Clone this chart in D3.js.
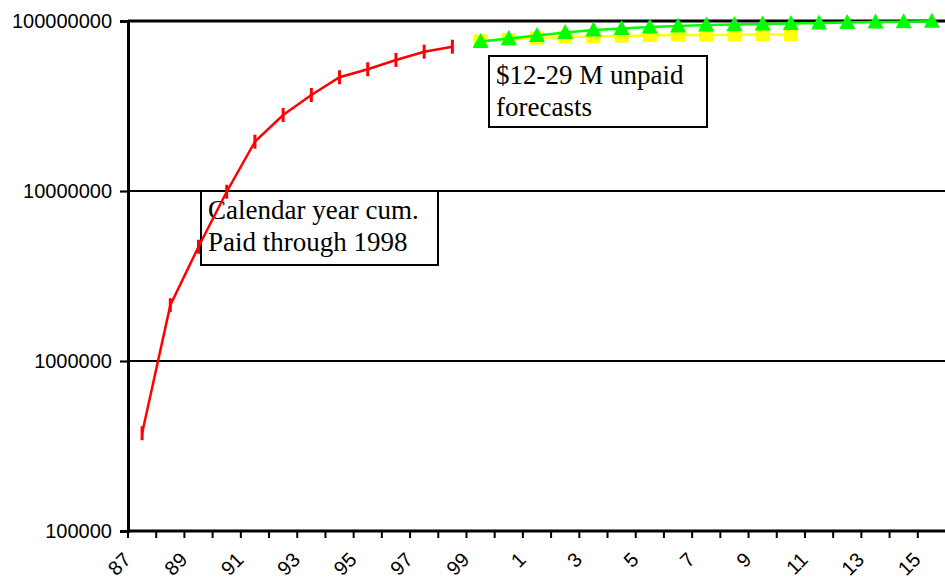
<!DOCTYPE html>
<html>
<head>
<meta charset="utf-8">
<script src="https://cdn.jsdelivr.net/npm/d3@7"></script>
<style>
  body { margin: 0; background: #fff; }
  svg { display: block; }
</style>
</head>
<body>
<div id="chart"></div>
<script>
// category axis: calendar years 1987..2015
const years = ["87", "88", "89", "90", "91", "92", "93", "94", "95", "96", "97", "98", "99",
    "0", "1", "2", "3", "4", "5", "6", "7", "8", "9", "10", "11", "12", "13", "14", "15"];
const shownLabels = ["87", "89", "91", "93", "95", "97", "99", "1", "3", "5", "7", "9", "11", "13", "15"];

// cumulative paid through 1998
const paidYears = ["87", "88", "89", "90", "91", "92", "93", "94", "95", "96", "97", "98"];
const paidValues = [376000, 2130000, 4700000, 9900000, 19500000, 28000000, 36700000,
    46700000, 52000000, 59000000, 66000000, 70600000];

// low forecast (yellow)
const lowYears = ["99", "0", "1", "2", "3", "4", "5", "6", "7", "8", "9", "10"];
const lowValues = [76300000, 77900000, 79400000, 80500000, 81100000, 81600000,
    82200000, 82700000, 82700000, 83000000, 83300000, 83300000];

// high forecast (green)
const highYears = ["99", "0", "1", "2", "3", "4", "5", "6", "7", "8", "9", "10",
    "11", "12", "13", "14", "15"];
const highValues = [75700000, 78900000, 82200000, 85600000, 88500000, 90300000,
    92200000, 93500000, 94700000, 95400000, 96000000, 96700000, 97300000,
    98000000, 98700000, 99000000, 99600000];

const yTicks = [100000, 1000000, 10000000, 100000000];

const width = 945, height = 583;
const plot = { left: 128, right: 946, top: 21, bottom: 531 };

const svg = d3.select("#chart")
    .append("svg")
    .attr("width", width)
    .attr("height", height);

const x = d3.scaleBand()
    .domain(years)
    .range([plot.left, plot.right]);

const y = d3.scaleLog()
    .domain([1e5, 1e8])
    .range([plot.bottom, plot.top]);

const cx = d => x(d) + x.bandwidth() / 2;

// horizontal gridlines
svg.append("g")
    .selectAll("line")
    .data(yTicks.slice(1))
    .enter()
    .append("line")
    .attr("x1", plot.left)
    .attr("x2", width)
    .attr("y1", d => y(d))
    .attr("y2", d => y(d))
    .attr("stroke", "#000")
    .attr("stroke-width", (d, i) => i === 2 ? 3 : 2.2);

// y axis
const yAxis = svg.append("g")
    .attr("transform", `translate(${plot.left},0)`)
    .call(d3.axisLeft(y).tickValues(yTicks).tickFormat(d3.format("d")).tickSize(8).tickPadding(8));
yAxis.select(".domain").attr("stroke-width", 3);
yAxis.selectAll(".tick line").attr("stroke-width", 2.2);
yAxis.selectAll("text")
    .style("font-family", "Arial, 'Liberation Sans', sans-serif")
    .style("font-size", "20px")
    .attr("fill", "#000");

// x axis: ticks between categories
const boundaries = years.map(d => x(d)).concat([x(years[years.length - 1]) + x.bandwidth()]);
svg.append("line")
    .attr("x1", plot.left - 1)
    .attr("x2", width)
    .attr("y1", plot.bottom)
    .attr("y2", plot.bottom)
    .attr("stroke", "#000")
    .attr("stroke-width", 3);
svg.append("g")
    .selectAll("line")
    .data(boundaries)
    .enter()
    .append("line")
    .attr("x1", d => d)
    .attr("x2", d => d)
    .attr("y1", plot.bottom)
    .attr("y2", plot.bottom + 7)
    .attr("stroke", "#000")
    .attr("stroke-width", 2);

svg.append("g")
    .selectAll("text")
    .data(shownLabels)
    .enter()
    .append("text")
    .attr("transform", d => `translate(${cx(d) - 10},${plot.bottom + 30}) rotate(-45)`)
    .attr("text-anchor", "end")
    .attr("fill", "#000")
    .style("font-family", "Arial, 'Liberation Sans', sans-serif")
    .style("font-size", "20px")
    .text(d => d);

// annotation boxes
const notes = [
    { x: 201, y: 191, w: 237, h: 74, lines: ["Calendar year cum.", "Paid through 1998"] },
    { x: 489, y: 56, w: 218, h: 71, lines: ["$12-29 M unpaid", "forecasts"] }
];
notes.forEach(n => {
    svg.append("rect")
        .attr("x", n.x)
        .attr("y", n.y)
        .attr("width", n.w)
        .attr("height", n.h)
        .attr("fill", "#fff")
        .attr("stroke", "#000")
        .attr("stroke-width", 2);
    svg.append("text")
        .attr("x", n.x + 7)
        .attr("y", n.y + 28)
        .style("font-family", "'Times New Roman', 'Liberation Serif', serif")
        .style("font-size", "27px")
        .selectAll("tspan")
        .data(n.lines)
        .enter()
        .append("tspan")
        .attr("x", n.x + 7)
        .attr("dy", (d, i) => i === 0 ? 0 : 31.5)
        .text(d => d);
});

const line = d3.line()
    .x(d => cx(d[0]))
    .y(d => y(d[1]));

// paid (red, dash markers)
const paid = d3.zip(paidYears, paidValues);
svg.append("path")
    .datum(paid)
    .attr("d", line)
    .attr("fill", "none")
    .attr("stroke", "#ff0000")
    .attr("stroke-width", 2.5);
svg.append("g")
    .selectAll("rect")
    .data(paid)
    .enter()
    .append("rect")
    .attr("x", d => cx(d[0]) - 1.5)
    .attr("y", d => y(d[1]) - 7)
    .attr("width", 3)
    .attr("height", 14)
    .attr("fill", "#ff0000");

// low forecast (yellow squares)
const low = d3.zip(lowYears, lowValues);
svg.append("path")
    .datum(low)
    .attr("d", line)
    .attr("fill", "none")
    .attr("stroke", "#ffff00")
    .attr("stroke-width", 2.5);
svg.append("g")
    .selectAll("rect")
    .data(low)
    .enter()
    .append("rect")
    .attr("x", d => cx(d[0]) - 7)
    .attr("y", d => y(d[1]) - 6.5)
    .attr("width", 14)
    .attr("height", 13)
    .attr("fill", "#ffff00");

// high forecast (green triangles)
const high = d3.zip(highYears, highValues);
svg.append("path")
    .datum(high)
    .attr("d", line)
    .attr("fill", "none")
    .attr("stroke", "#00ff00")
    .attr("stroke-width", 2.5);
svg.append("g")
    .selectAll("path")
    .data(high)
    .enter()
    .append("path")
    .attr("d", d => {
        const px = cx(d[0]), py = y(d[1]);
        return `M${px},${py - 8.5}L${px + 8},${py + 6.5}L${px - 8},${py + 6.5}Z`;
    })
    .attr("fill", "#00ff00");
</script>
</body>
</html>
